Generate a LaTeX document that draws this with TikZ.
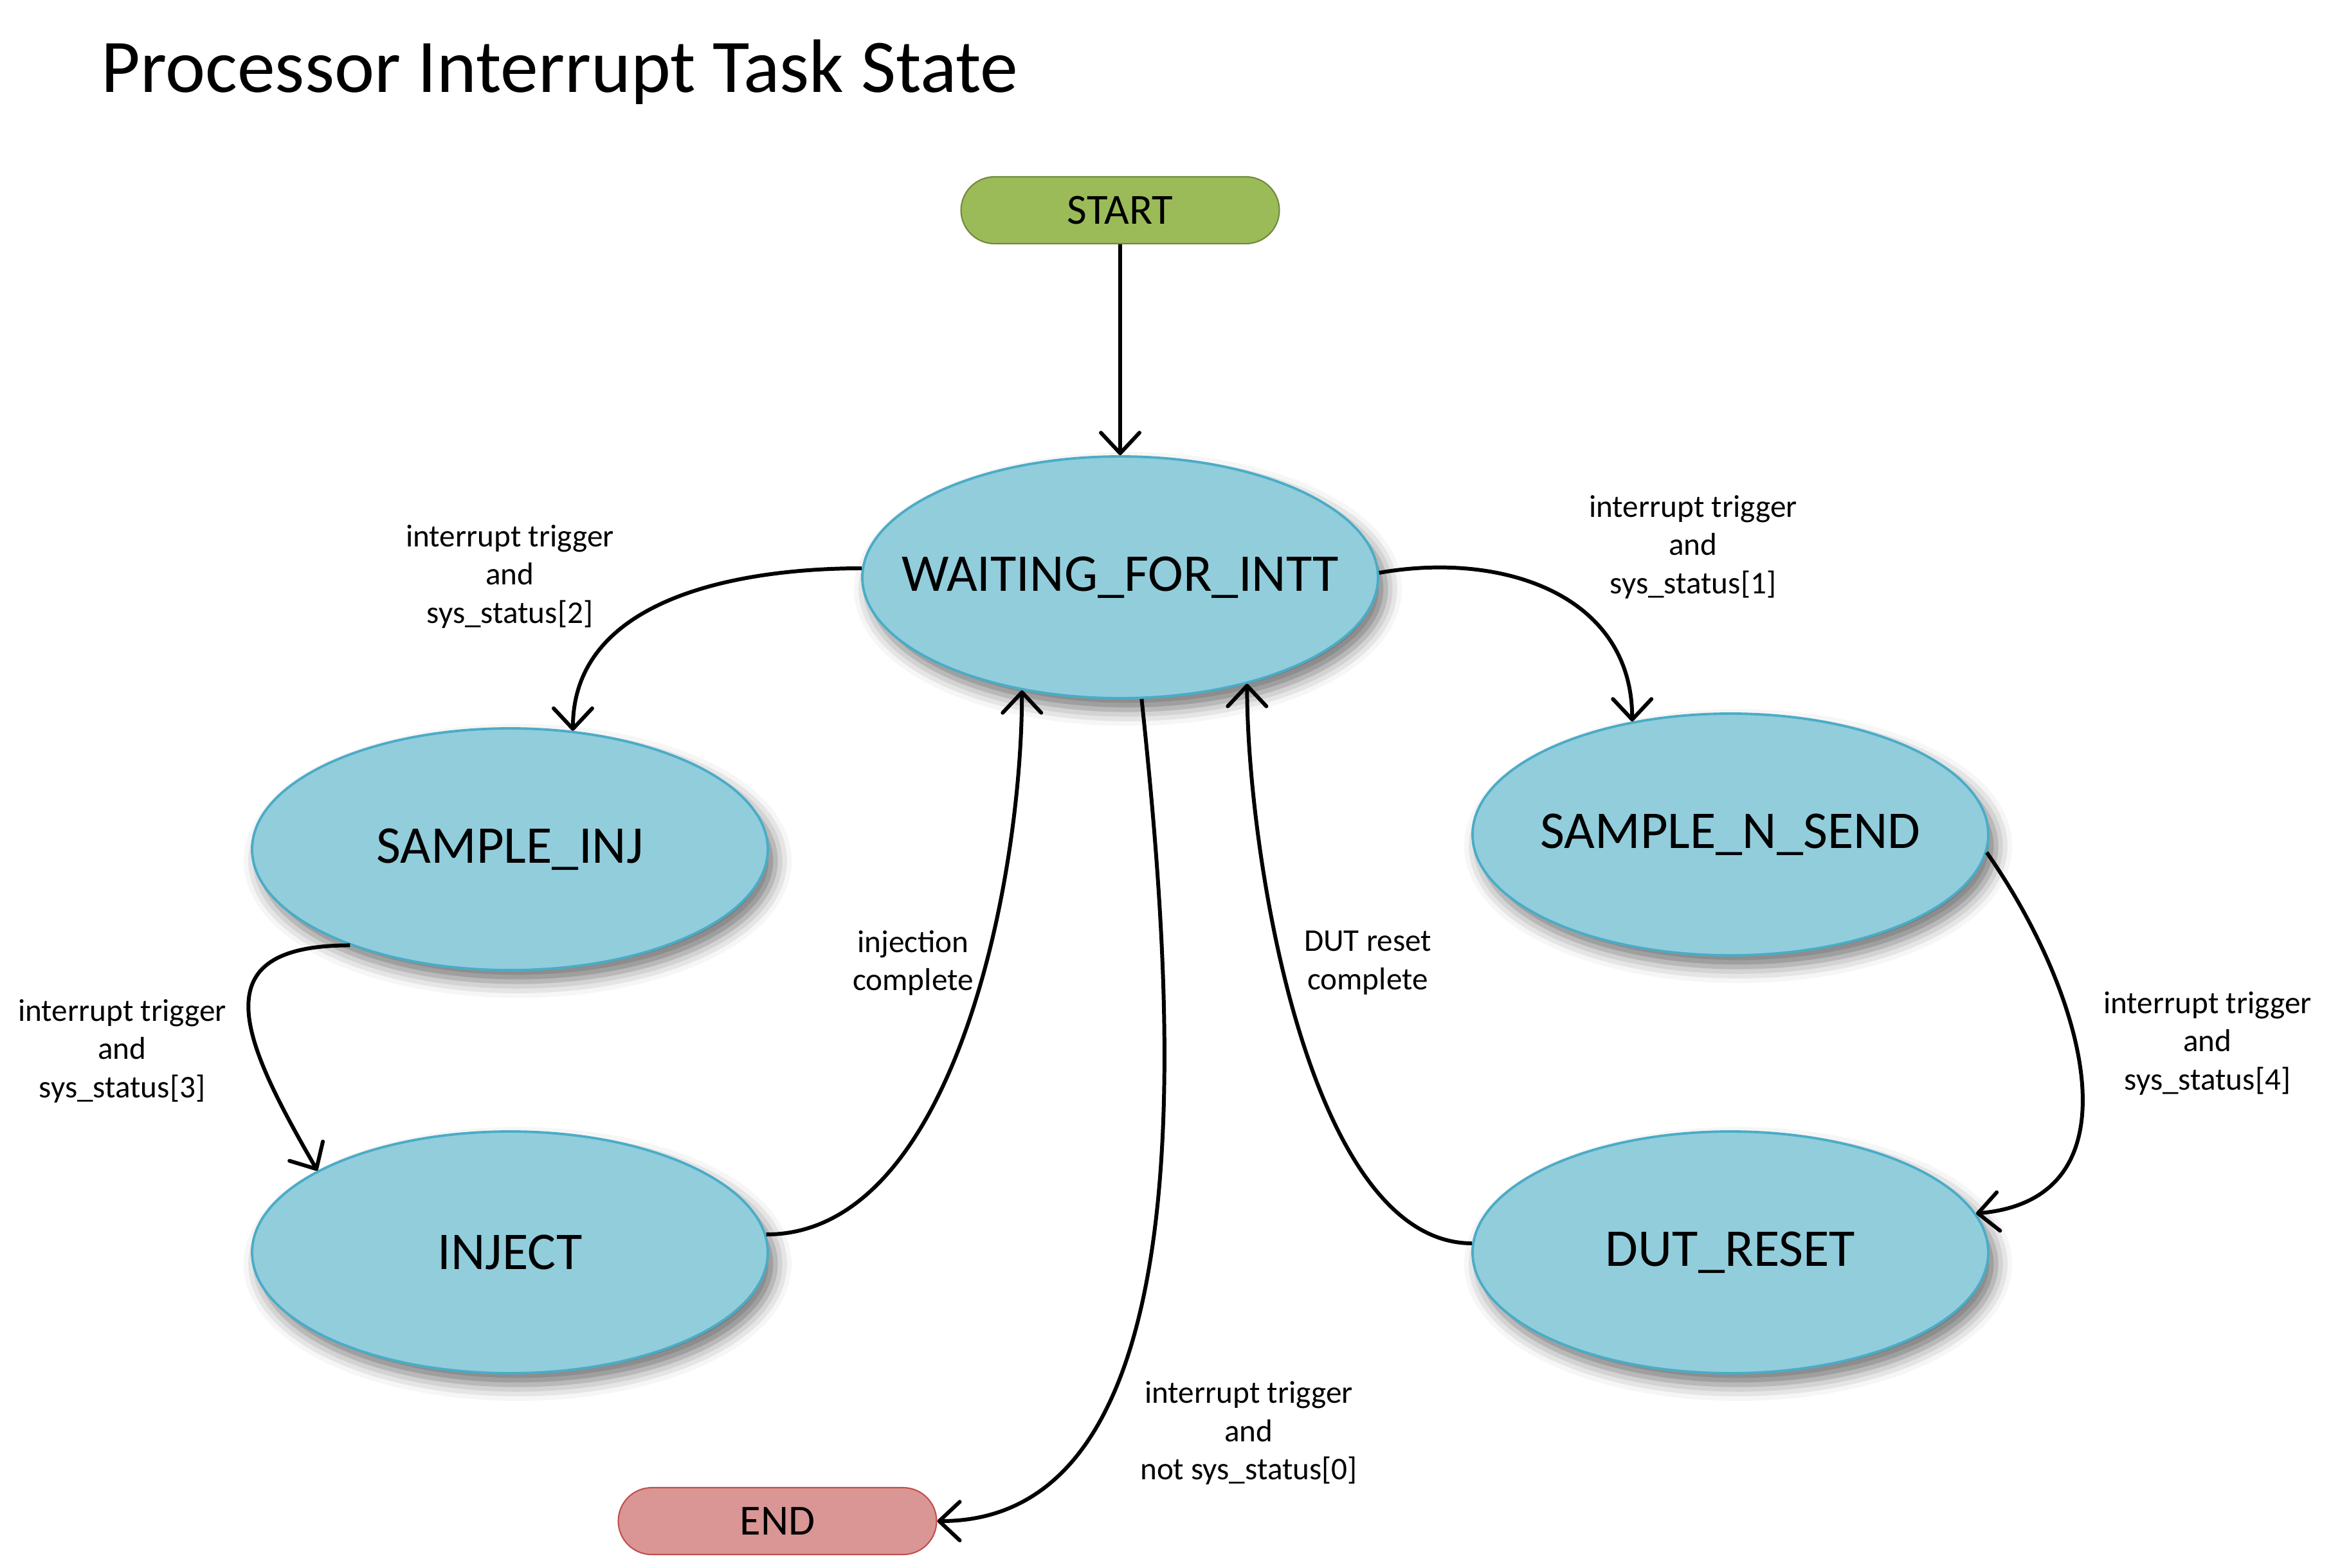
\documentclass[tikz,border=0pt]{standalone}
\usepackage{fontspec}
\setmainfont{Carlito}
\usetikzlibrary{arrows.meta,positioning,shapes.geometric,shadows.blur}
\definecolor{stateblue}{HTML}{92CDDC}
\definecolor{stateedge}{HTML}{4BACC6}
\definecolor{startgreen}{HTML}{9BBB59}
\definecolor{startedge}{HTML}{71893F}
\definecolor{endred}{HTML}{D99694}
\definecolor{endedge}{HTML}{C0504D}

\begin{document}
\begin{tikzpicture}[
      state_st/.style={
         ellipse,
         draw=stateedge,
         fill=stateblue,
         line width=1.1pt,
         inner sep=0pt,
         minimum width=8.02cm,
         minimum height=3.76cm,
         font=\fontsize{23.5}{28}\selectfont,
         execute at begin node={\hbox to 0pt\bgroup\hss\lower1.5pt\hbox\bgroup},
         execute at end node={\egroup\hss\egroup},
         blur shadow={shadow xshift=0.12cm, shadow yshift=-0.18cm,
                      shadow blur radius=0.25cm, shadow opacity=55}},
      term_st/.style={
         rectangle,
         rounded corners=0.52cm,
         line width=0.6pt,
         minimum width=4.95cm,
         minimum height=1.04cm,
         inner sep=0pt,
         font=\fontsize{19}{23}\selectfont},
      cond_txt/.style={
         align=center,
         inner sep=0pt,
         font=\fontsize{14}{17}\selectfont},
      arrow_black/.style={
         -{Straight Barb[length=3.2mm,width=6mm,round]},
         line width=1.7pt}
]
      \useasboundingbox (0,0) rectangle (36.25,-24.38);

      %title
      \node[anchor=base west,font=\fontsize{33.5}{40}\selectfont] (title) at (1.45,-1.43) {Processor Interrupt Task State};

      %terminals
      \node[term_st,draw=startedge,fill=startgreen] (start) at (17.42,-3.27) {START};
      \node[term_st,draw=endedge,fill=endred] (endst) at (12.09,-23.66) {END};

      %states
      \node[state_st] (wait) at (17.42,-8.98) {WAITING\_FOR\_INTT};
      \node[state_st] (inj) at (7.93,-13.21) {SAMPLE\_INJ};
      \node[state_st] (inject) at (7.93,-19.48) {INJECT};
      \node[state_st] (send) at (26.91,-12.98) {SAMPLE\_N\_SEND};
      \node[state_st] (reset) at (26.91,-19.48) {DUT\_RESET};

    \foreach \i/\j/\o/\n/\l in {% start node/end node/out/in/looseness
      start.south/wait.north/-90/90/1,
      wait.178/inj.62/180/90/1,
      wait.1/send.131/10/90/1.1,
      inj.211/inject.157/180/120/1.7,
      inject.4/wait.229/0/-90/0.8,
      send.-4/reset.9/-55/5/1.2,
      reset.178/wait.-40/180/-90/0.7,
      wait.-80/endst.east/-84/0/0.85}
      \draw [arrow_black] (\i) to[out=\o,in=\n,looseness=\l] (\j);

    \foreach \c/\x/\y/\txt in {% name/x/y/text
      c2/7.93/-8.97/{interrupt trigger\\and\\sys\_status[2]},
      c1/26.33/-8.51/{interrupt trigger\\and\\sys\_status[1]},
      c3/1.90/-16.35/{interrupt trigger\\and\\sys\_status[3]},
      c4/34.33/-16.23/{interrupt trigger\\and\\sys\_status[4]},
      cinj/14.20/-14.98/{injection\\complete},
      cdut/21.27/-14.98/{DUT reset\\complete},
      c0/19.42/-22.29/{interrupt trigger\\and\\not sys\_status[0]}}
      \node[cond_txt] (\c) at (\x,\y) {\txt};

\end{tikzpicture}
\end{document}
